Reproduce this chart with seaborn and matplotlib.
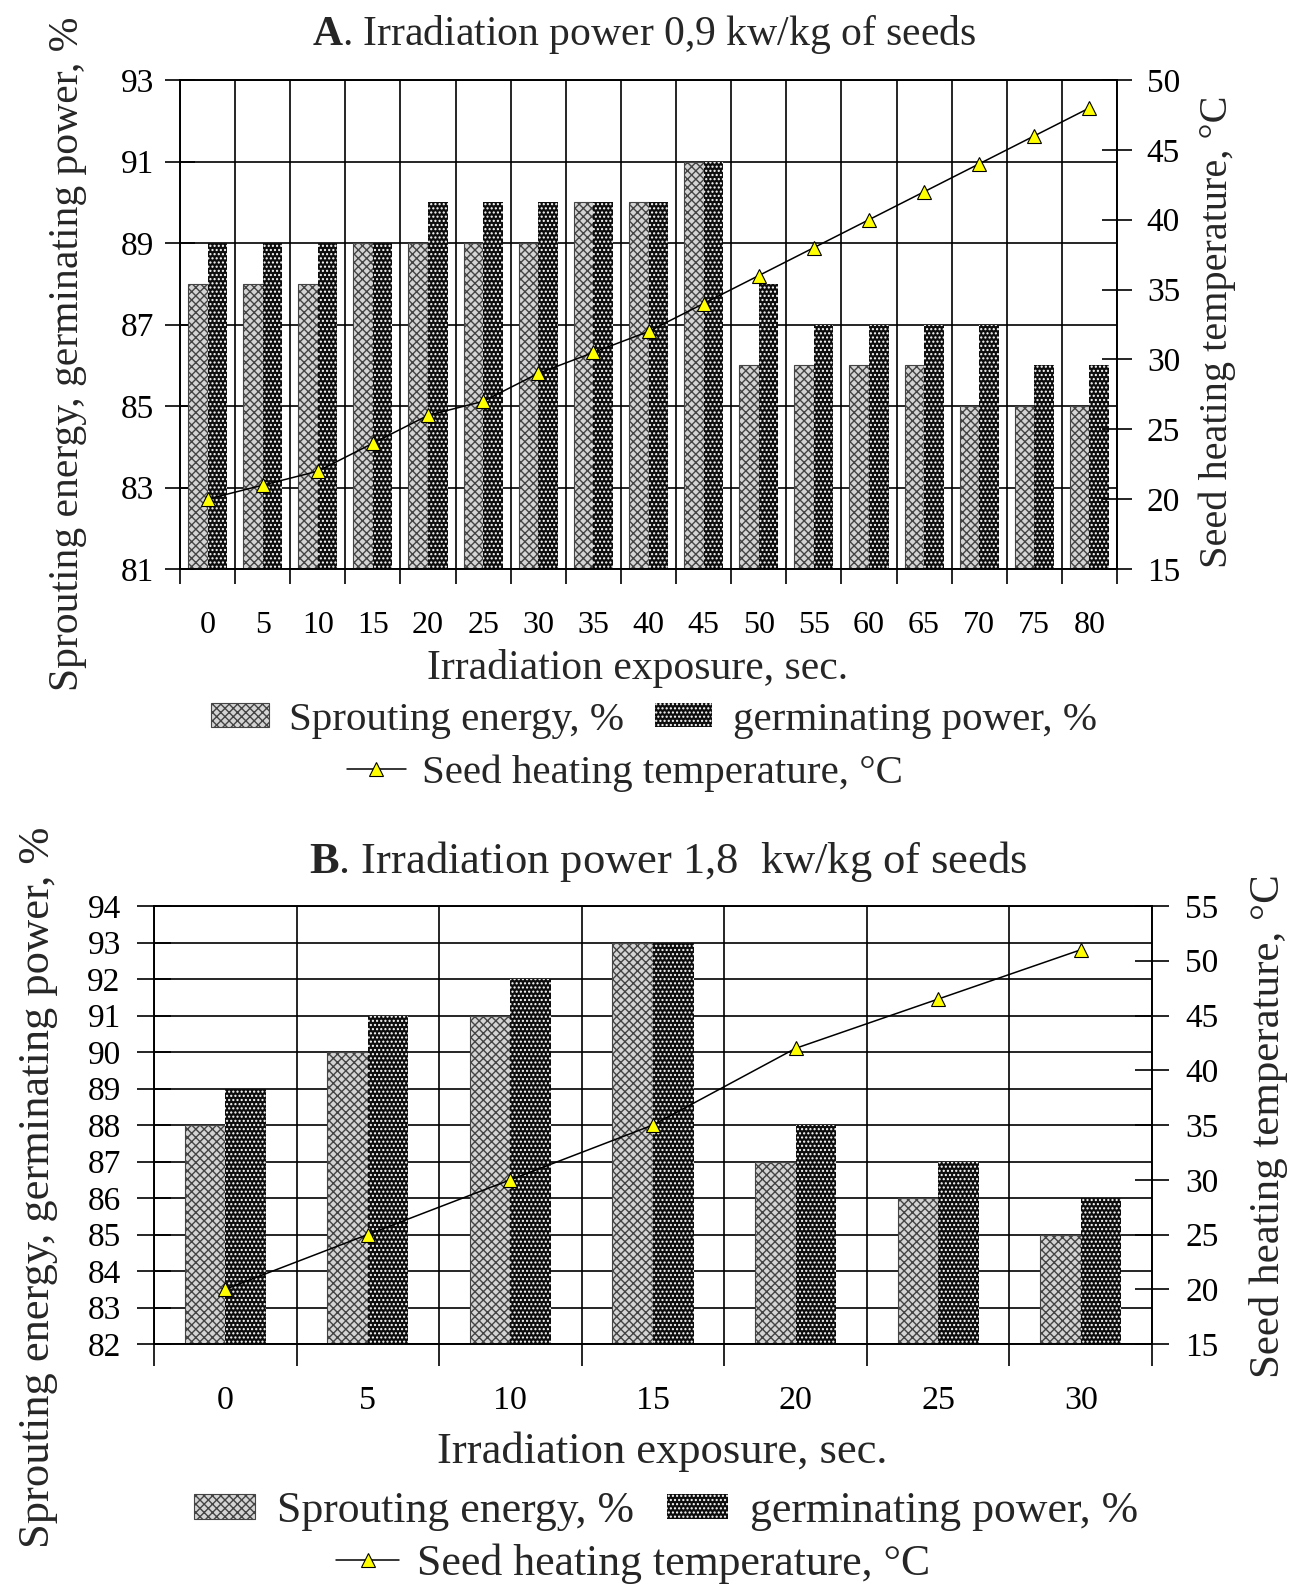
import numpy as np
import pandas as pd
import matplotlib
matplotlib.use("Agg")
import matplotlib.pyplot as plt
import seaborn as sns

# ---------------- data ----------------
exposure_a = [0, 5, 10, 15, 20, 25, 30, 35, 40, 45, 50, 55, 60, 65, 70, 75, 80]
sprouting_a = [88, 88, 88, 89, 89, 89, 89, 90, 90, 91, 86, 86, 86, 86, 85, 85, 85]
germinating_a = [89, 89, 89, 89, 90, 90, 90, 90, 90, 91, 88, 87, 87, 87, 87, 86, 86]
temp_a = [20, 21, 22, 24, 26, 27, 29, 30.5, 32, 34, 36, 38, 40, 42, 44, 46, 48]

exposure_b = [0, 5, 10, 15, 20, 25, 30]
sprouting_b = [88, 90, 91, 93, 87, 86, 85]
germinating_b = [89, 91, 92, 93, 88, 87, 86]
temp_b = [20, 25, 30, 35, 42, 46.5, 51]

series_names = ["Sprouting energy, %", "germinating power, %"]
line_name = "Seed heating temperature, \u00b0C"
title_a = r"$\mathbf{A}$. Irradiation power 0,9 kw/kg of seeds"
title_b = r"$\mathbf{B}$. Irradiation power 1,8  kw/kg of seeds"
xlabel = "Irradiation exposure, sec."
ylabel_left = "Sprouting energy, germinating power, %"

# ---------------- style ----------------
sns.set_theme(style="white")
plt.rcParams["font.family"] = ["Liberation Serif", "DejaVu Serif"]
plt.rcParams["mathtext.fontset"] = "custom"
plt.rcParams["mathtext.rm"] = "Liberation Serif"
plt.rcParams["mathtext.bf"] = "Liberation Serif:bold"
plt.rcParams["hatch.linewidth"] = 1.0

W, H = 1290, 1584
fig = plt.figure(figsize=(W / 100, H / 100), dpi=100)


def fx(px):
    return px / W


def fy(py):
    return 1 - py / H


def panel(rect, exposure, spr, ger, temp, ylim, ystep, y2lim, y2step, width,
          xtick_fs, ytick_fs, pad_l, pad_r, xpad, lencross, minor_len):
    ax = fig.add_axes(rect)
    df = pd.DataFrame({
        "exposure": [str(e) for e in exposure] * 2,
        "value": list(spr) + list(ger),
        "series": [series_names[0]] * len(exposure) + [series_names[1]] * len(exposure),
    })
    order = [str(e) for e in exposure]
    sns.barplot(data=df, x="exposure", y="value", hue="series", order=order,
                hue_order=series_names, palette=["#d4d4d4", "#0d0d0d"],
                width=width, gap=0, saturation=1, legend=False, ax=ax)
    for p in ax.containers[0]:
        p.set_hatch("xxxx")
        p.set_edgecolor("#444444")
        p.set_linewidth(0.8)
    for p in ax.containers[1]:
        p.set_hatch("....")
        p.set_edgecolor("white")
        p.set_linewidth(0)
    n = len(exposure)
    ax.set_ylim(*ylim)
    ax.set_yticks(np.arange(ylim[0], ylim[1] + 0.01, ystep))
    ax.set_xlim(-0.5, n - 0.5)
    ax.set_xticks(np.arange(n))
    ax.set_xticklabels(order)
    ax.set_xticks(np.arange(n + 1) - 0.5, minor=True)
    ax.set_xlabel("")
    ax.set_ylabel("")
    ax.set_axisbelow(True)
    ax.grid(axis="y", which="major", color="black", lw=1.2)
    ax.grid(axis="x", which="minor", color="black", lw=1.2)
    ax.grid(axis="x", which="major", visible=False)
    for s in ax.spines.values():
        s.set_color("black")
        s.set_linewidth(1.2)
    ax.tick_params(axis="x", which="major", length=0, labelsize=xtick_fs, pad=xpad,
                   colors="black")
    ax.tick_params(axis="x", which="minor", length=minor_len, width=1.2,
                   direction="out", bottom=True, colors="black")
    ax.tick_params(axis="y", which="major", length=lencross, width=1.2,
                   direction="inout", labelsize=ytick_fs, pad=pad_l, left=True,
                   colors="black")

    ax2 = ax.twinx()
    sns.lineplot(x=np.arange(n), y=temp, ax=ax2, color="black", lw=1.1,
                 marker="^", markersize=10, markerfacecolor="#ffff00",
                 markeredgecolor="black", markeredgewidth=0.8)
    ax2.set_ylim(*y2lim)
    ax2.set_yticks(np.arange(y2lim[0], y2lim[1] + 0.01, y2step))
    ax2.set_xlim(-0.5, n - 0.5)
    ax2.grid(False)
    for s in ax2.spines.values():
        s.set_color("black")
        s.set_linewidth(1.2)
    ax2.tick_params(axis="y", length=lencross, width=1.2, direction="inout",
                    labelsize=ytick_fs, pad=pad_r, right=True, colors="black")
    ax2.set_ylabel("")
    return ax, ax2


def legends(ax, ax2, row1, row2, fs):
    fig.legend(handles=[ax.containers[0], ax.containers[1]], labels=series_names,
               ncol=2, loc="center", bbox_to_anchor=(fx(row1[0]), fy(row1[1])),
               frameon=False, fontsize=fs, handlelength=1.4, handleheight=0.5,
               handletextpad=0.5, columnspacing=0.75, borderpad=0, borderaxespad=0)
    fig.legend(handles=[ax2.lines[0]], labels=[line_name], loc="center",
               bbox_to_anchor=(fx(row2[0]), fy(row2[1])), frameon=False,
               fontsize=fs, handlelength=1.45, handletextpad=0.4, numpoints=1,
               borderpad=0, borderaxespad=0)


# ---------------- panel A ----------------
FA = 30
axA, axA2 = panel([fx(180), fy(569), fx(1117 - 180), (569 - 80) / H],
                  exposure_a, sprouting_a, germinating_a, temp_a,
                  (81, 93), 2, (15, 50), 5, 0.71, 23, 24, 8, 11, 30, 21, 11)
fig.text(fx(644), fy(35), title_a, ha="center", va="center", fontsize=FA)
fig.text(fx(638), fy(669), xlabel, ha="center", va="center", fontsize=FA)
fig.text(fx(68), fy(354), ylabel_left, ha="center", va="center", rotation=90,
         fontsize=FA)
fig.text(fx(1217), fy(332), line_name, ha="center", va="center", rotation=90,
         fontsize=29)
legends(axA, axA2, (654, 720), (625, 773), 29.5)

# ---------------- panel B ----------------
FB = 32
axB, axB2 = panel([fx(154), fy(1344), fx(1152 - 154), (1344 - 906) / H],
                  exposure_b, sprouting_b, germinating_b, temp_b,
                  (82, 94), 1, (15, 55), 5, 0.57, 24.5, 24, 12, 12, 30, 24, 16)
fig.text(fx(668), fy(862), title_b, ha="center", va="center", fontsize=FB)
fig.text(fx(662), fy(1452), xlabel, ha="center", va="center", fontsize=FB)
fig.text(fx(38), fy(1187), ylabel_left, ha="center", va="center", rotation=90,
         fontsize=FB)
fig.text(fx(1268), fy(1126), line_name, ha="center", va="center", rotation=90,
         fontsize=31)
legends(axB, axB2, (666, 1511), (633, 1564), 31.5)

fig.savefig("out.png", dpi=100, facecolor="white")
